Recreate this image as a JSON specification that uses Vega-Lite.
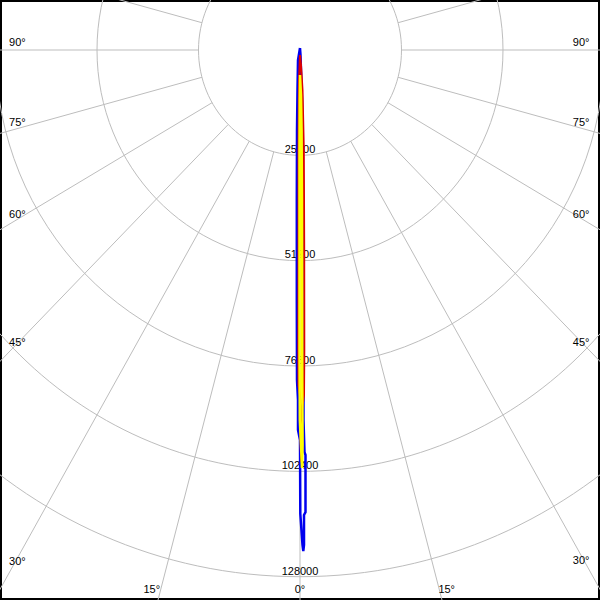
{
  "$schema": "https://vega.github.io/schema/vega-lite/v6.json",
  "width": 600,
  "height": 600,
  "autosize": {"type": "none"},
  "padding": 0,
  "background": "white",
  "view": {"stroke": "black", "strokeWidth": 4},
  "datasets": {
    "rings": [{"r": 25600}, {"r": 51200}, {"r": 76800}, {"r": 102400}, {"r": 128000}],
    "spokes": [
      {"angle": -105, "x1": -24728, "y1": 6626, "x2": -193185, "y2": 51764},
      {"angle": -90, "x1": -25600, "y1": 0, "x2": -200000, "y2": 0},
      {"angle": -75, "x1": -24728, "y1": -6626, "x2": -193185, "y2": -51764},
      {"angle": -60, "x1": -22170, "y1": -12800, "x2": -173205, "y2": -100000},
      {"angle": -45, "x1": -18102, "y1": -18102, "x2": -141421, "y2": -141421},
      {"angle": -30, "x1": -12800, "y1": -22170, "x2": -100000, "y2": -173205},
      {"angle": -15, "x1": -6626, "y1": -24728, "x2": -51764, "y2": -193185},
      {"angle": 0, "x1": 0, "y1": -25600, "x2": 0, "y2": -200000},
      {"angle": 15, "x1": 6626, "y1": -24728, "x2": 51764, "y2": -193185},
      {"angle": 30, "x1": 12800, "y1": -22170, "x2": 100000, "y2": -173205},
      {"angle": 45, "x1": 18102, "y1": -18102, "x2": 141421, "y2": -141421},
      {"angle": 60, "x1": 22170, "y1": -12800, "x2": 173205, "y2": -100000},
      {"angle": 75, "x1": 24728, "y1": -6626, "x2": 193185, "y2": -51764},
      {"angle": 90, "x1": 25600, "y1": 0, "x2": 200000, "y2": 0},
      {"angle": 105, "x1": 24728, "y1": 6626, "x2": 193185, "y2": 51764}
    ],
    "leftLabels": [
      {"label": "90°", "x": -73390, "y": 972},
      {"label": "75°", "x": -73390, "y": -18468},
      {"label": "60°", "x": -73390, "y": -40824},
      {"label": "45°", "x": -73390, "y": -71928},
      {"label": "30°", "x": -73390, "y": -125145}
    ],
    "rightLabels": [
      {"label": "90°", "x": 73012, "y": 972},
      {"label": "75°", "x": 73012, "y": -18468},
      {"label": "60°", "x": 73012, "y": -40824},
      {"label": "45°", "x": 73012, "y": -71928},
      {"label": "30°", "x": 73012, "y": -124900}
    ],
    "centerLabels": [
      {"label": "15°", "x": -37402, "y": -131828},
      {"label": "0°", "x": 0, "y": -131828},
      {"label": "15°", "x": 36998, "y": -131828},
      {"label": "25600", "x": 0, "y": -24956},
      {"label": "51200", "x": 0, "y": -50617},
      {"label": "76800", "x": 0, "y": -76302},
      {"label": "102400", "x": 0, "y": -101817},
      {"label": "128000", "x": 0, "y": -127575}
    ],
    "blue": [
      {"x": 0, "y": 486}, {"x": -504, "y": -2430}, {"x": -631, "y": -9720}, {"x": -757, "y": -19440},
      {"x": -807, "y": -36450}, {"x": -807, "y": -60750}, {"x": -757, "y": -80190}, {"x": -504, "y": -85050},
      {"x": -504, "y": -92340}, {"x": 0, "y": -94770}, {"x": 76, "y": -112700}, {"x": 631, "y": -120285},
      {"x": 832, "y": -121743}, {"x": 1009, "y": -120285}, {"x": 1009, "y": -113000}, {"x": 1387, "y": -112300},
      {"x": 1387, "y": -98415}, {"x": 1135, "y": -97700}, {"x": 883, "y": -89910}, {"x": 883, "y": -60750},
      {"x": 757, "y": -36450}, {"x": 631, "y": -21870}, {"x": 504, "y": -12150}, {"x": 252, "y": -4860},
      {"x": 126, "y": -1215}, {"x": 0, "y": 486}
    ],
    "red": [
      {"x": 0, "y": -1215}, {"x": -252, "y": -7290}, {"x": -378, "y": -24300}, {"x": -378, "y": -48600},
      {"x": -429, "y": -72900}, {"x": -378, "y": -81405}, {"x": 126, "y": -85050}, {"x": 202, "y": -97200},
      {"x": 378, "y": -100116}, {"x": 504, "y": -97200}, {"x": 504, "y": -87480}, {"x": 1009, "y": -83835},
      {"x": 1084, "y": -72900}, {"x": 1059, "y": -48600}, {"x": 958, "y": -24300}, {"x": 631, "y": -9720},
      {"x": 252, "y": -3645}, {"x": 0, "y": -1215}
    ],
    "yellow": [
      {"x": 0, "y": -6075}, {"x": -76, "y": -12150}, {"x": -126, "y": -24300}, {"x": -126, "y": -48600},
      {"x": -126, "y": -72900}, {"x": -50, "y": -89910}, {"x": 252, "y": -95985}, {"x": 504, "y": -101574},
      {"x": 656, "y": -95985}, {"x": 580, "y": -80190}, {"x": 555, "y": -60750}, {"x": 504, "y": -36450},
      {"x": 404, "y": -19440}, {"x": 252, "y": -10935}, {"x": 0, "y": -6075}
    ]
  },
  "layer": [
    {
      "data": {"name": "rings"},
      "mark": {
        "type": "point",
        "shape": "M0.9635,0C0.9635,0.5523,0.5321,1,0,1C-0.5321,1,-0.9635,0.5523,-0.9635,0C-0.9635,-0.5523,-0.5321,-1,0,-1C0.5321,-1,0.9635,-0.5523,0.9635,0Z",
        "filled": false,
        "color": "#bdbdbd",
        "stroke": "#bdbdbd",
        "strokeWidth": 1,
        "opacity": 1,
        "clip": true
      },
      "encoding": {
        "x": {"datum": 0, "type": "quantitative", "scale": {"domain": [-75665, 75665], "nice": false, "zero": false}, "axis": null},
        "y": {"datum": 0, "type": "quantitative", "scale": {"domain": [-133650, 12150], "nice": false, "zero": false}, "axis": null},
        "size": {"field": "r", "type": "quantitative", "scale": {"type": "pow", "exponent": 2, "domain": [0, 128000], "range": [0, 1109652]}, "legend": null}
      }
    },
    {
      "data": {"name": "spokes"},
      "mark": {"type": "rule", "color": "#bdbdbd", "strokeWidth": 1, "clip": true},
      "encoding": {
        "x": {"field": "x1", "type": "quantitative", "scale": {"domain": [-75665, 75665], "nice": false, "zero": false}, "axis": null},
        "y": {"field": "y1", "type": "quantitative", "scale": {"domain": [-133650, 12150], "nice": false, "zero": false}, "axis": null},
        "x2": {"field": "x2"},
        "y2": {"field": "y2"}
      }
    },
    {
      "data": {"name": "leftLabels"},
      "mark": {"type": "text", "align": "left", "baseline": "alphabetic", "font": "Liberation Sans", "fontSize": 11, "color": "black"},
      "encoding": {
        "x": {"field": "x", "type": "quantitative", "scale": {"domain": [-75665, 75665], "nice": false, "zero": false}, "axis": null},
        "y": {"field": "y", "type": "quantitative", "scale": {"domain": [-133650, 12150], "nice": false, "zero": false}, "axis": null},
        "text": {"field": "label"}
      }
    },
    {
      "data": {"name": "rightLabels"},
      "mark": {"type": "text", "align": "right", "baseline": "alphabetic", "font": "Liberation Sans", "fontSize": 11, "color": "black"},
      "encoding": {
        "x": {"field": "x", "type": "quantitative", "scale": {"domain": [-75665, 75665], "nice": false, "zero": false}, "axis": null},
        "y": {"field": "y", "type": "quantitative", "scale": {"domain": [-133650, 12150], "nice": false, "zero": false}, "axis": null},
        "text": {"field": "label"}
      }
    },
    {
      "data": {"name": "centerLabels"},
      "mark": {"type": "text", "align": "center", "baseline": "alphabetic", "font": "Liberation Sans", "fontSize": 11, "color": "black"},
      "encoding": {
        "x": {"field": "x", "type": "quantitative", "scale": {"domain": [-75665, 75665], "nice": false, "zero": false}, "axis": null},
        "y": {"field": "y", "type": "quantitative", "scale": {"domain": [-133650, 12150], "nice": false, "zero": false}, "axis": null},
        "text": {"field": "label"}
      }
    },
    {
      "data": {"name": "blue"},
      "mark": {"type": "line", "color": "#0000ee", "strokeWidth": 2.5, "clip": true},
      "encoding": {
        "x": {"field": "x", "type": "quantitative", "scale": {"domain": [-75665, 75665], "nice": false, "zero": false}, "axis": null},
        "y": {"field": "y", "type": "quantitative", "scale": {"domain": [-133650, 12150], "nice": false, "zero": false}, "axis": null},
        "order": {"value": null}
      }
    },
    {
      "data": {"name": "red"},
      "mark": {"type": "line", "color": "#dd0000", "strokeWidth": 2, "clip": true},
      "encoding": {
        "x": {"field": "x", "type": "quantitative", "scale": {"domain": [-75665, 75665], "nice": false, "zero": false}, "axis": null},
        "y": {"field": "y", "type": "quantitative", "scale": {"domain": [-133650, 12150], "nice": false, "zero": false}, "axis": null},
        "order": {"value": null}
      }
    },
    {
      "data": {"name": "yellow"},
      "mark": {"type": "line", "color": "#ffff00", "strokeWidth": 2.5, "clip": true},
      "encoding": {
        "x": {"field": "x", "type": "quantitative", "scale": {"domain": [-75665, 75665], "nice": false, "zero": false}, "axis": null},
        "y": {"field": "y", "type": "quantitative", "scale": {"domain": [-133650, 12150], "nice": false, "zero": false}, "axis": null},
        "order": {"value": null}
      }
    }
  ]
}
